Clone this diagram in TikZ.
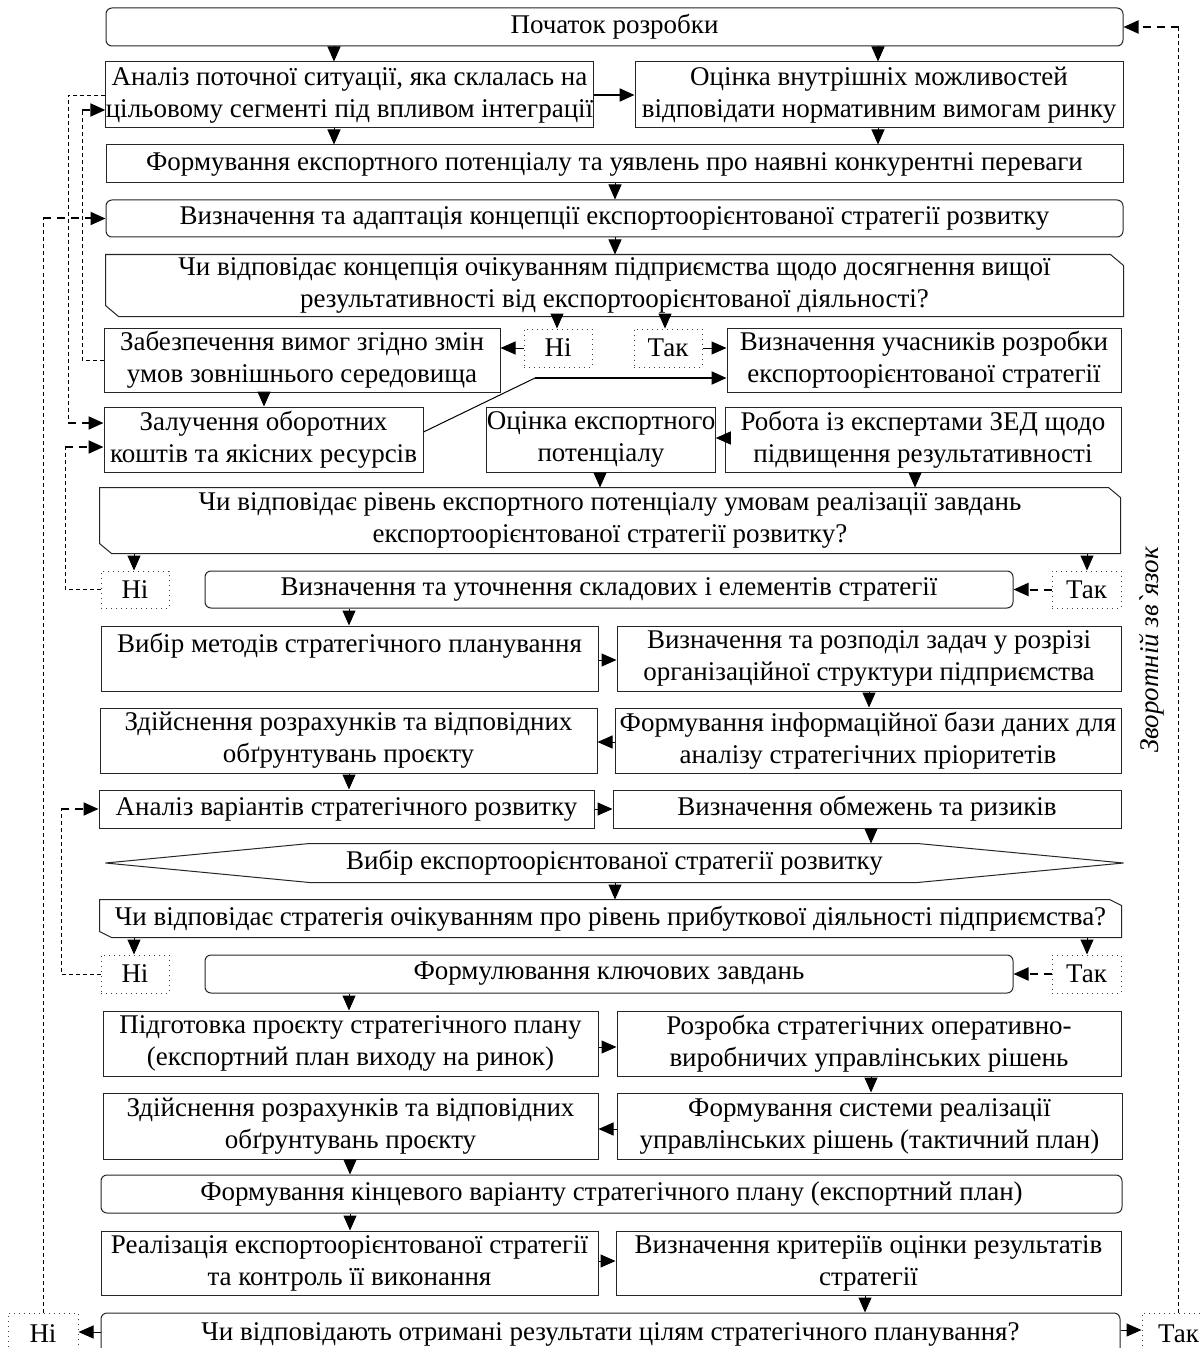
\documentclass[tikz,border=0pt]{standalone}
\usepackage{fontspec}
\setmainfont{Liberation Serif}
\usetikzlibrary{arrows.meta,calc,positioning}

\tikzset{
  box/.style={draw=black!85, line width=0.5pt, inner sep=0pt, align=center,
    font=\fontsize{13.5}{16}\selectfont},
  boxsz/.style 2 args={minimum width=#1*0.5pt, minimum height=#2*0.5pt},
  blk/.style={box, rectangle},
  rblk/.style={box, rectangle, rounded corners=3pt},
  ans/.style={box, draw=black!75, dotted},
  dec/.style={box, draw=none},
  outl/.style={draw=black!85, line width=0.5pt},
  flow/.style={-{Triangle[length=7.5pt,width=6.5pt]}, line width=0.5pt},
  flowthick/.style={flow, line width=1.1pt},
  fb/.style={dash pattern=on 2pt off 1.5pt, line width=0.4pt},
  fbin/.style={-{Triangle[length=7.5pt,width=6.5pt]}, dash pattern=on 4pt off 3pt, line width=1pt},
}

% outline of a question box: cut corners bottom left and top right
\newcommand{\decframe}[3]{%
  \draw[outl] (#1.north west) -- ($(#1.north east)+(-#2,0)$) -- ($(#1.north east)+(0,#3)$)
    -- (#1.south east) -- ($(#1.south west)+(#2,0)$) -- ($(#1.south west)+(0,-#3)$) -- cycle;}

\begin{document}
\begin{tikzpicture}[x=0.5pt, y=-0.5pt]
\useasboundingbox (0,0) rectangle (1203,1348);
\clip (0,0) rectangle (1203,1348);
\fill[white] (0,0) rectangle (1203,1348);

% blocks
\node[rblk, boxsz={1017}{38}] (Start) at (614.5,27) {Початок розробки};
\node[blk, boxsz={487}{66}] (A) at (349.5,95) {Аналіз поточної ситуації, яка склалась на\\цільовому сегменті під впливом інтеграції};
\node[blk, boxsz={488}{66}] (B) at (879,95) {Оцінка внутрішніх можливостей\\відповідати нормативним вимогам ринку};
\node[blk, boxsz={1017}{38}] (C) at (614.5,164) {Формування експортного потенціалу та уявлень про наявні конкурентні переваги};
\node[rblk, boxsz={1017}{37}] (D) at (614.5,218.5) {Визначення та адаптація концепції експортоорієнтованої стратегії розвитку};
\node[dec, boxsz={1017}{61}] (Q1) at (614.5,285.5) {Чи відповідає концепція очікуванням підприємства щодо досягнення вищої\\результативності від експортоорієнтованої діяльності?};
\decframe{Q1}{13}{11}

\node[ans, boxsz={68}{38}] (no1) at (558,348) {Ні};
\node[ans, boxsz={68}{38}] (yes1) at (668,348) {Так};
\node[blk, boxsz={396}{64}] (E) at (302,360) {Забезпечення вимог згідно змін\\умов зовнішнього середовища};
\node[blk, boxsz={394}{64}] (G) at (924,360) {Визначення учасників розробки\\експортоорієнтованої стратегії};
\node[blk, boxsz={319}{65}] (F) at (263.5,439.5) {Залучення оборотних\\коштів та якісних ресурсів};
\node[blk, boxsz={216}{65}] (H) at (601,439.5) {Оцінка експортного\\потенціалу};
\node[blk, boxsz={396}{65}] (I) at (923,439.5) {Робота із експертами ЗЕД щодо\\підвищення результативності};
\node[dec, boxsz={1020}{65}] (Q2) at (610,520.5) {Чи відповідає рівень експортного потенціалу умовам реалізації завдань\\експортоорієнтованої стратегії розвитку?};
\decframe{Q2}{12}{10}

\node[ans, boxsz={68}{37}] (no2) at (135,589.5) {Ні};
\node[rblk, boxsz={808}{37}] (J) at (609,589.5) {Визначення та уточнення складових і елементів стратегії};
\node[ans, boxsz={69}{37}] (yes2) at (1086.5,589.5) {Так};
\node[blk, boxsz={497}{65}] (K) at (349.5,658.5) {Вибір методів стратегічного планування\\~};
\node[blk, boxsz={504}{65}] (L) at (869,658.5) {Визначення та розподіл задач у розрізі\\організаційної структури підприємства};
\node[blk, boxsz={497}{65}] (M) at (348.5,740.5) {Здійснення розрахунків та відповідних\\обґрунтувань проєкту};
\node[blk, boxsz={506}{65}] (N) at (868,740.5) {Формування інформаційної бази даних для\\аналізу стратегічних пріоритетів};
\node[blk, boxsz={495}{38}] (O) at (346.5,809) {Аналіз варіантів стратегічного розвитку};
\node[blk, boxsz={508}{38}] (P) at (867,809) {Визначення обмежень та ризиків};
\node[dec, boxsz={1017}{38}] (Sel) at (614.5,863) {Вибір експортоорієнтованої стратегії розвитку};
\draw[outl] (Sel.west) -- ($(Sel.north west)+(204,0)$) -- ($(Sel.north east)+(-206,0)$) -- (Sel.east)
  -- ($(Sel.south east)+(-206,0)$) -- ($(Sel.south west)+(204,0)$) -- cycle;
\node[dec, boxsz={1021}{37}] (Q3) at (610.5,918.5) {Чи відповідає стратегія очікуванням про рівень прибуткової діяльності підприємства?};
\decframe{Q3}{12}{6}

\node[ans, boxsz={68}{38}] (no3) at (135,974) {Ні};
\node[rblk, boxsz={808}{38}] (R) at (609,974) {Формулювання ключових завдань};
\node[ans, boxsz={69}{38}] (yes3) at (1086.5,974) {Так};
\node[blk, boxsz={495}{65}] (S) at (350.5,1043.5) {Підготовка проєкту стратегічного плану\\(експортний план виходу на ринок)};
\node[blk, boxsz={504}{65}] (T) at (869,1043.5) {Розробка стратегічних оперативно-\\виробничих управлінських рішень};
\node[blk, boxsz={495}{66}] (U) at (350.5,1126) {Здійснення розрахунків та відповідних\\обґрунтувань проєкту};
\node[blk, boxsz={505}{66}] (V) at (869.5,1126) {Формування системи реалізації\\управлінських рішень (тактичний план)};
\node[rblk, boxsz={1021}{38}] (W) at (611.5,1194) {Формування кінцевого варіанту стратегічного плану (експортний план)};
\node[blk, boxsz={497}{64}] (X) at (349.5,1263) {Реалізація експортоорієнтованої стратегії\\та контроль її виконання};
\node[blk, boxsz={505}{64}] (Y) at (868.5,1263) {Визначення критеріїв оцінки результатів\\стратегії};
\node[rblk, boxsz={1019}{42}] (Q4) at (610.5,1334) {Чи відповідають отримані результати цілям стратегічного планування?};
\node[ans, boxsz={70}{42}] (no4) at (43,1334) {Ні};
\node[ans, boxsz={73}{42}] (yes4) at (1178.5,1334) {Так};

\node[rotate=90, font=\itshape\fontsize{13.5}{16}\selectfont] (fbtext) at (1152,650) {Зворотній зв\textasciigrave язок};

% main flow
\draw[flow] (Start.south -| 334,0) -- (A.north -| 334,0);
\draw[flow] (Start.south -| 878,0) -- (B.north -| 878,0);
\draw[flowthick] (A.east |- 0,95) -- (B.west |- 0,95);
\draw[flow] (A.south -| 334,0) -- (C.north -| 334,0);
\draw[flow] (B.south -| 878,0) -- (C.north -| 878,0);
\draw[flow] (C.south -| 615,0) -- (D.north -| 615,0);
\draw[flow] (D.south -| 615,0) -- (Q1.north -| 615,0);
\draw[flow] (Q1.south -| 557,0) -- (no1.north -| 557,0);
\draw[flow] (Q1.south -| 665,0) -- (yes1.north -| 665,0);
\draw[flow] (no1.west) -- (E.east |- no1.west);
\draw[flow] (yes1.east) -- (G.west |- yes1.east);
\draw[flow] (E.south -| 264,0) -- (F.north -| 264,0);
\coordinate (fg) at (535,378);
\draw[line width=0.5pt] (F.east |- 0,432) -- (fg);
\draw[flowthick] (fg) -- (G.west |- fg);
\draw[flow] (I.west |- 0,438) -- (H.east |- 0,438);
\draw[flow] (H.south -| 600,0) -- (Q2.north -| 600,0);
\draw[flow] (I.south -| 915,0) -- (Q2.north -| 915,0);
\draw[flow] (Q2.south -| 134,0) -- (no2.north -| 134,0);
\draw[flow] (Q2.south -| 1087,0) -- (yes2.north -| 1087,0);
\draw[fbin] (yes2.west) -- (J.east);
\draw[flow] (J.south -| 349,0) -- (K.north -| 349,0);
\draw[flow] (K.east |- 0,660) -- (L.west |- 0,660);
\draw[flow] (L.south -| 869,0) -- (N.north -| 869,0);
\draw[flow] (N.west |- 0,742) -- (M.east |- 0,742);
\draw[flow] (M.south -| 349,0) -- (O.north -| 349,0);
\draw[flow] (O.east) -- (P.west);
\draw[flow] (P.south -| 871,0) -- (Sel.north -| 871,0);
\draw[flow] (Sel.south -| 615,0) -- (Q3.north -| 615,0);
\draw[flow] (Q3.south -| 134,0) -- (no3.north -| 134,0);
\draw[flow] (Q3.south -| 1087,0) -- (yes3.north -| 1087,0);
\draw[fbin] (yes3.west) -- (R.east);
\draw[flow] (R.south -| 349,0) -- (S.north -| 349,0);
\draw[flow] (S.east |- 0,1047) -- (T.west |- 0,1047);
\draw[flow] (T.south -| 871,0) -- (V.north -| 871,0);
\draw[flow] (V.west |- 0,1129) -- (U.east |- 0,1129);
\draw[flow] (U.south -| 350,0) -- (W.north -| 350,0);
\draw[flow] (W.south -| 350,0) -- (X.north -| 350,0);
\draw[flow] (X.east |- 0,1261) -- (Y.west |- 0,1261);
\draw[flow] (Y.south -| 865,0) -- (Q4.north -| 865,0);
\draw[flow] (Q4.west |- 0,1332) -- (no4.east |- 0,1332);
\draw[flow] (Q4.east |- 0,1330) -- (yes4.west |- 0,1330);

% feedback
\coordinate (kaf) at (68,423);
\draw[fb] (A.west) -| (kaf);
\draw[fbin] (kaf) -- (kaf -| F.west);
\coordinate (kea) at (82,110);
\draw[fb] (E.west) -| (kea);
\draw[fbin] (kea) -- (kea -| A.west);
\coordinate (knf) at (65,447);
\draw[fb] (no2.west) -| (knf);
\draw[fbin] (knf) -- (knf -| F.west);
\coordinate (kno) at (61,809);
\draw[fb] (no3.west) -| (kno);
\draw[fbin] (kno) -- (O.west);
\coordinate (knd) at (no4.north |- D.west);
\draw[fb] (no4.north) -- (knd);
\draw[fbin] (knd) -- (D.west);
\coordinate (kys) at (yes4.north |- Start.east);
\draw[fb] (yes4.north) -- (kys);
\draw[fbin] (kys) -- (Start.east);
\end{tikzpicture}
\end{document}
